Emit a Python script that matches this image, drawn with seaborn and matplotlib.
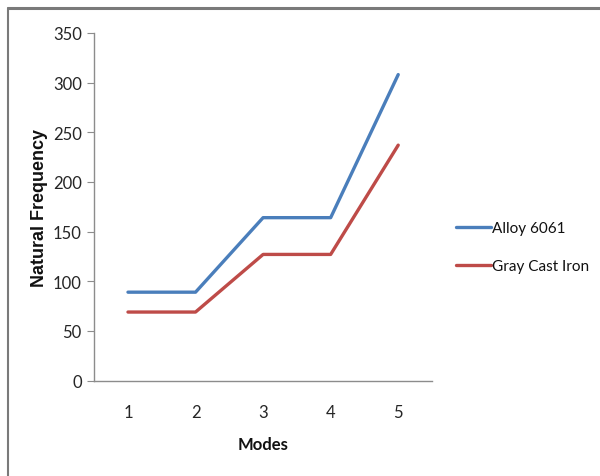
import matplotlib
matplotlib.use("Agg")
import matplotlib.pyplot as plt
from matplotlib.lines import Line2D
import seaborn as sns
import pandas as pd

modes = [1, 2, 3, 4, 5]
alloy_6061 = [89, 89, 164, 164, 308]
gray_cast_iron = [69, 69, 127, 127, 237]
series_names = ["Alloy 6061", "Gray Cast Iron"]
y_ticks = [0, 50, 100, 150, 200, 250, 300, 350]

df = pd.DataFrame({
    "Modes": modes * 2,
    "Natural Frequency": alloy_6061 + gray_cast_iron,
    "Material": [series_names[0]] * len(modes) + [series_names[1]] * len(modes),
})

sns.set_theme(style="white")
plt.rcParams["font.family"] = ["Lato", "DejaVu Sans"]

fig = plt.figure(figsize=(6.0, 4.77), dpi=100)
ax = fig.add_axes([0.157, 0.200, 0.563, 0.729])

palette = {series_names[0]: "#4a7ebb", series_names[1]: "#be4b48"}
sns.lineplot(data=df, x="Modes", y="Natural Frequency", hue="Material",
             palette=palette, linewidth=2.4, ax=ax, legend=False)

ax.set_xlim(0.5, 5.5)
ax.set_ylim(0, 350)
ax.set_xticks(modes)
ax.set_yticks(y_ticks)
ax.tick_params(axis="y", which="both", left=True, length=5, width=0.8,
               color="#8c8c8c", labelsize=12, labelcolor="#262626", pad=4)
ax.tick_params(axis="x", bottom=False, labelsize=12, labelcolor="#262626", pad=11)

for side in ("top", "right"):
    ax.spines[side].set_visible(False)
for side in ("left", "bottom"):
    ax.spines[side].set_color("#8c8c8c")
    ax.spines[side].set_linewidth(1.0)

ax.set_ylabel("Natural Frequency", fontsize=13, fontweight="bold",
              family="Liberation Sans", color="#111111")
ax.yaxis.set_label_coords(-0.138, 0.5)
ax.set_xlabel("Modes", fontsize=12, fontweight="bold", color="#111111")
ax.xaxis.set_label_coords(0.5, -0.16)

handles = [Line2D([0], [0], color=palette[n], lw=2.4) for n in series_names]
fig.legend(handles, series_names, loc="center left",
           bbox_to_anchor=(0.737, 0.480), frameon=False, fontsize=11,
           handlelength=2.3, handletextpad=0.05, labelspacing=1.55,
           labelcolor="#111111")

# outer frame lines along the top and left edge
fig.add_artist(Line2D([0.013, 1.0], [0.981, 0.981], transform=fig.transFigure,
                      color="#7a7a7a", lw=2.2))
fig.add_artist(Line2D([0.013, 0.013], [0.0, 0.981], transform=fig.transFigure,
                      color="#7a7a7a", lw=1.5))

fig.savefig("out.png", dpi=100)
